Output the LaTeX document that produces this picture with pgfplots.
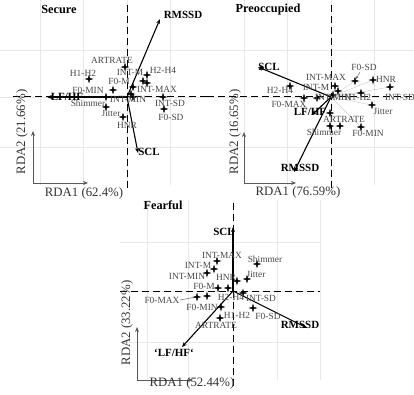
\documentclass[border=0pt]{standalone}
\usepackage{pgfplots}
\pgfplotsset{compat=1.18}
\usepackage{pgfplotstable}
\usepackage{fontspec}
\setmainfont{Liberation Serif}
\usetikzlibrary{arrows.meta}

\pgfdeclareplotmark{star4}{%
 \pgfpathmoveto{\pgfqpoint{0pt}{\pgfplotmarksize}}%
 \pgfpathlineto{\pgfqpoint{0.22\pgfplotmarksize}{0.22\pgfplotmarksize}}%
 \pgfpathlineto{\pgfqpoint{\pgfplotmarksize}{0pt}}%
 \pgfpathlineto{\pgfqpoint{0.22\pgfplotmarksize}{-0.22\pgfplotmarksize}}%
 \pgfpathlineto{\pgfqpoint{0pt}{-\pgfplotmarksize}}%
 \pgfpathlineto{\pgfqpoint{-0.22\pgfplotmarksize}{-0.22\pgfplotmarksize}}%
 \pgfpathlineto{\pgfqpoint{-\pgfplotmarksize}{0pt}}%
 \pgfpathlineto{\pgfqpoint{-0.22\pgfplotmarksize}{0.22\pgfplotmarksize}}%
 \pgfpathclose\pgfusepathqfillstroke}

% ---------- Secure ----------
\pgfplotstableread{
x y
-2 30
-38 18
20 22
16 16
20 14
6 10
4 3
6 0
-14 7
-21 0
36 0
37 -12
-21 -10
-4 -20
}\secpts
\pgfplotstableread{
x y t
-15 37 ARTRATE
-44 24 H1-H2
3 25 INT-M
36 27 H2-H4
-8 16 F0-M
30 8 INT-MAX
-39 7 F0-MIN
-39 -6 Shimmer
1 -2 INT-MIN
43 -6 INT-SD
44 -20 F0-SD
-16 -16 Jitter
0 -28 HNR
}\seclab
\pgfplotstableread{
x y t
56 82 RMSSD
22 -55 SCL
-60 0 LF/HF
}\secbold

% ---------- Preoccupied ----------
\pgfplotstableread{
x y
24 16
42 17
59 10
4 11
7 6
-41 11
-27 -1
-14 -1
2 2
30 4
41 -8
-1 -16
-1 -29
9 -29
30 -30
}\prepts
\pgfplotstableread{
x y t
33 30 F0-SD
55 18 HNR
69 0 INT-SD
-5 20 INT-MAX
-15 10 INT-M
2 0 INT-MIN
27 0 H1-H2
-51 7 H2-H4
-42 -7 F0-MAX
52 -14 Jitter
13 -22 ARTRATE
-7 -35 Shimmer
37 -36 F0-MIN
}\prelab
\pgfplotstableread{
x y t
-62 30 SCL
-31 -71 RMSSD
-21 -15 LF/HF
}\prebold

% ---------- Fearful ----------
\pgfplotstableread{
x y
24 27
-16 30
-19 22
-26 18
14 12
4 10
-15 3
-5 3
10 -2
-26 -5
-36 -6
-12 -16
20 -17
-13 -27
}\fearpts
\pgfplotstableread{
x y t
32 32 Shimmer
-11 36 INT-MAX
-35 26 INT-M
-46 15 INT-MIN
23 17 Jitter
-7 14 HNR
-29 5 F0-M
-2 -6 H2-H4
28 -7 INT-SD
-71 -9 F0-MAX
-31 -16 F0-MIN
4 -24 H1-H2
35 -25 F0-SD
-17 -34 ARTRATE
}\fearlab
\pgfplotstableread{
x y t
-9 59 SCL
67 -34 RMSSD
-59 -62 `LF/HF`
}\fearbold

\pgfplotsset{
 rdapanel/.style={
  scale only axis, enlargelimits=false, clip=false,
  axis line style={draw=none}, major tick length=0pt,
  xticklabels={}, yticklabels={},
  grid=major, grid style={black!9, line width=0.6pt},
  anchor=south west,
 },
 zeroline/.style={black, line width=1pt, dash pattern=on 7pt off 4pt, forget plot},
 resp/.style={black, line width=1.1pt, -{Stealth[length=5pt,width=4pt]}},
 stars/.style={only marks, mark=star4, mark size=3.7pt, black, mark options={line width=0.35pt}},
 labs/.style={draw=none, mark=none, nodes near coords, point meta=explicit symbolic,
   every node near coord/.append style={anchor=center, inner sep=0pt, text=black!72,
   font=\fontsize{9.4}{10}\selectfont}},
 blabs/.style={draw=none, mark=none, nodes near coords, point meta=explicit symbolic,
   every node near coord/.append style={anchor=center, inner sep=0pt, text=black,
   font=\fontsize{11}{12}\selectfont\bfseries}},
 corner/.style={black!65, line width=0.7pt, -{Stealth[length=5pt,width=4pt]}},
}
\newcommand{\cornerfont}{\fontsize{12.8}{14}\selectfont}
\newcommand{\titlefont}{\fontsize{12.3}{14}\selectfont\bfseries}

\begin{document}
\begin{tikzpicture}
\path[use as bounding box] (0pt,0pt) rectangle (414pt,-394pt);

% Secure
\begin{axis}[rdapanel, at={(0pt,-185pt)}, width=207pt, height=185pt,
  xmin=-127, xmax=80, ymin=-88, ymax=97,
  xtick={-87,-44,0,43}, ytick={-50,0,47}]
\addplot[zeroline] coordinates {(-114,0) (80,0)};
\addplot[zeroline] coordinates {(0,92) (0,-92)};
\addplot[resp] coordinates {(0,0) (33,78)};
\addplot[resp] coordinates {(0,0) (11,-56)};
\addplot[resp] coordinates {(0,0) (-80,0)};
\addplot[stars] table {\secpts};
\addplot[labs] table[meta=t] {\seclab};
\addplot[blabs] table[meta=t] {\secbold};
\addplot[corner] coordinates {(-94,-86) (-94,-34)};
\addplot[corner] coordinates {(-94,-86) (-39,-86)};
\node[rotate=90, text=black!80, font=\cornerfont] at (axis cs:-105,-35) {RDA2 (21.66\%)};
\node[text=black!80, font=\cornerfont] at (axis cs:-43,-96) {RDA1 (62.4\%)};
\node[font=\titlefont] at (axis cs:-68,87) {Secure};
\end{axis}

% Preoccupied
\begin{axis}[rdapanel, at={(207pt,-185pt)}, width=207pt, height=185pt,
  xmin=-124, xmax=83, ymin=-88, ymax=97,
  xtick={-87,-44,0,43}, ytick={-50,0,47}]
\addplot[zeroline] coordinates {(-124,0) (83,0)};
\addplot[zeroline] coordinates {(0,92) (0,-95)};
\foreach \px/\py in {59/10,41/-8,42/17,30/4,24/16,30/-30} {
 \edef\tmp{\noexpand\addplot[black!25, line width=0.35pt, forget plot] coordinates {(0,0) (\px,\py)};}\tmp
}
\addplot[resp] coordinates {(0,0) (-73,30)};
\addplot[resp] coordinates {(0,0) (-37,-75)};
\addplot[resp] coordinates {(0,0) (-19,-18)};
\addplot[stars] table {\prepts};
\addplot[black!60, line width=0.5pt, -{Stealth[length=3pt]}] coordinates {(29,25) (25,18)};
\addplot[labs] table[meta=t] {\prelab};
\addplot[blabs] table[meta=t] {\prebold};
\addplot[corner] coordinates {(-87,-86) (-87,-35)};
\addplot[corner] coordinates {(-87,-86) (-35,-86)};
\node[rotate=90, text=black!80, font=\cornerfont] at (axis cs:-96,-35) {RDA2 (16.65\%)};
\node[text=black!80, font=\cornerfont] at (axis cs:-33,-95) {RDA1 (76.59\%)};
\node[font=\titlefont] at (axis cs:-63,87) {Preoccupied};
\end{axis}

% Fearful
\begin{axis}[rdapanel, at={(120pt,-380pt)}, width=200pt, height=180pt,
  xmin=-113, xmax=87, ymin=-89, ymax=91,
  xtick={-86,-45,0,44,87}, ytick={-51,0,49}]
\addplot[zeroline] coordinates {(-113,0) (87,0)};
\addplot[zeroline] coordinates {(0,88) (0,-98)};
\addplot[resp] coordinates {(0,0) (0,64)};
\addplot[resp] coordinates {(0,0) (74,-37)};
\addplot[resp] coordinates {(0,0) (-51,-56)};
\addplot[stars] table {\fearpts};
\addplot[black!60, line width=0.5pt] coordinates {(-53,-9) (-37,-6)};
\addplot[labs] table[meta=t] {\fearlab};
\addplot[blabs] table[meta=t] {\fearbold};
\addplot[corner] coordinates {(-96,-89) (-96,-36)};
\addplot[corner] coordinates {(-96,-89) (-40,-89)};
\node[rotate=90, text=black!80, font=\cornerfont] at (axis cs:-106,-32) {RDA2 (33.22\%)};
\node[text=black!80, font=\cornerfont] at (axis cs:-41,-92) {RDA1 (52.44\%)};
\node[font=\titlefont] at (axis cs:-70,86) {Fearful};
\end{axis}
\end{tikzpicture}
\end{document}
